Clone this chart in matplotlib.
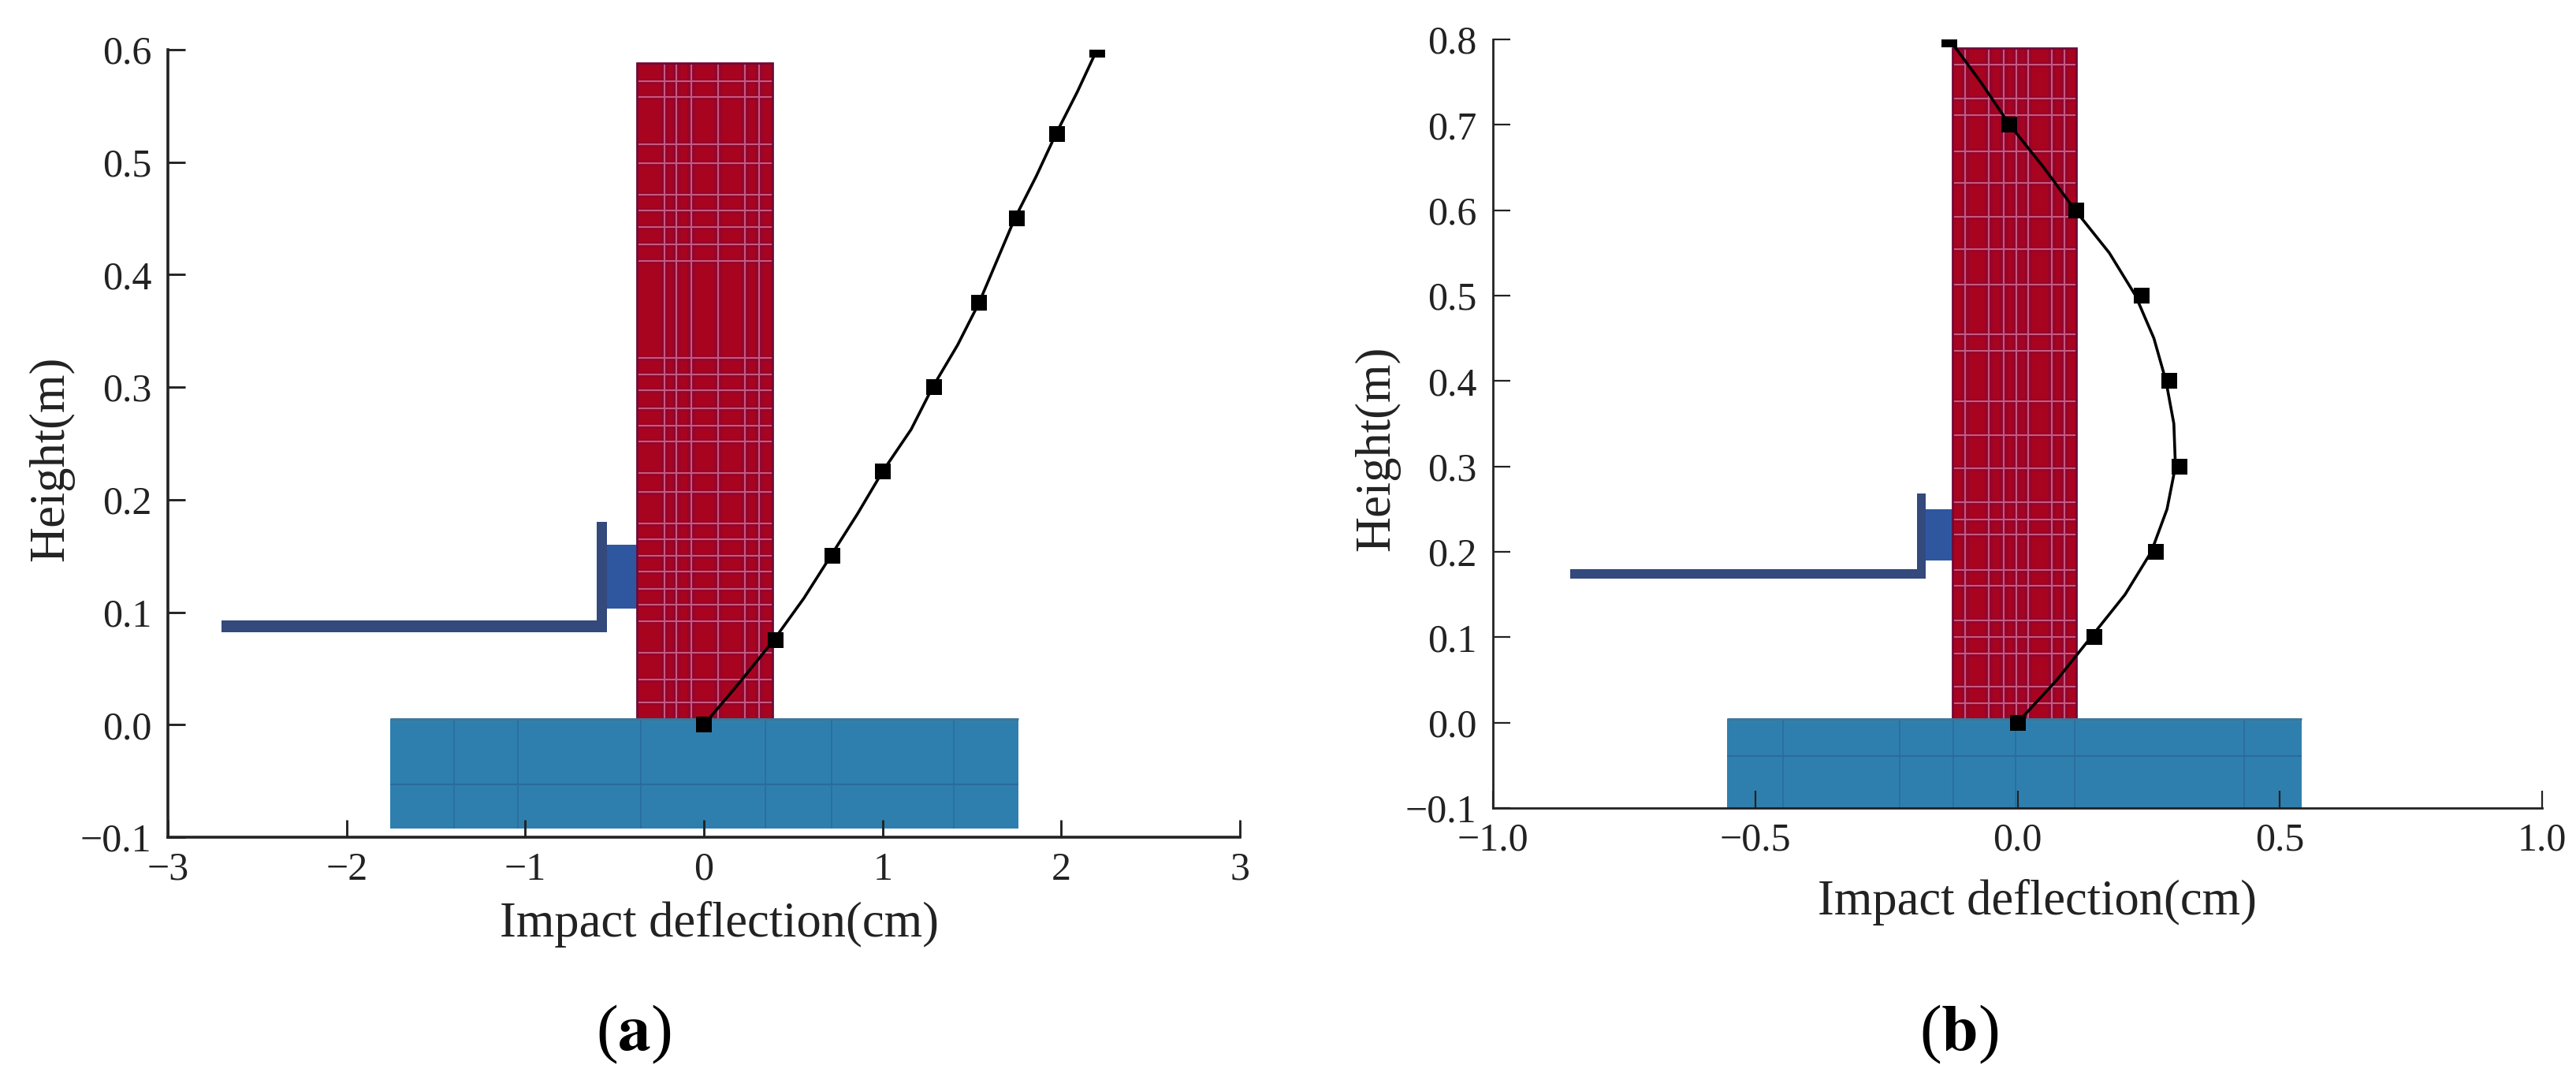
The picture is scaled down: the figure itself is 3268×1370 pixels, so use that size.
import matplotlib
matplotlib.use('Agg')
import matplotlib.pyplot as plt
from matplotlib.patches import Rectangle

W, H = 3268, 1370
plt.rcParams['font.family'] = ['Liberation Serif', 'DejaVu Serif']

# panel (a) data
a_x_ticks = [-3, -2, -1, 0, 1, 2, 3]
a_y_ticks = [-0.1, 0.0, 0.1, 0.2, 0.3, 0.4, 0.5, 0.6]
a_marker_x = [0, 0.40, 0.72, 1.00, 1.29, 1.54, 1.75, 1.975, 2.20]
a_marker_y = [0, 0.075, 0.15, 0.225, 0.30, 0.375, 0.45, 0.525, 0.60]
a_curve_x = [0, 0.20, 0.39, 0.56, 0.71, 0.86, 1.00, 1.16, 1.28, 1.42, 1.54, 1.64, 1.74, 1.86, 1.97, 2.09, 2.20]
a_curve_y = [0, 0.0375, 0.075, 0.1125, 0.15, 0.1875, 0.225, 0.2625, 0.30, 0.3375, 0.375, 0.4125, 0.45, 0.4875, 0.525, 0.5625, 0.60]
a_wall = (-0.375, 0.384, 0.005, 0.588)
a_wall_v = [-0.221, -0.154, -0.071, 0.079, 0.229, 0.309]
a_wall_h = [0.572, 0.558, 0.516, 0.499, 0.471, 0.457, 0.442, 0.427, 0.412, 0.326, 0.311, 0.297, 0.281, 0.266,
            0.252, 0.224, 0.207, 0.179, 0.165, 0.150, 0.136, 0.121, 0.107, 0.092, 0.064, 0.040, 0.020]
a_foot = (-1.756, 1.76, -0.092, 0.005)
a_foot_v = [-1.398, -1.04, -0.353, 0.344, 0.715, 1.40]
a_foot_h = [-0.053]
a_arm = (-2.70, -0.543, 0.0825, 0.093)
a_post = (-0.60, -0.543, 0.0825, 0.180)
a_block = (-0.543, -0.375, 0.103, 0.160)

# panel (b) data
b_x_ticks = [-1.0, -0.5, 0.0, 0.5, 1.0]
b_y_ticks = [-0.1, 0.0, 0.1, 0.2, 0.3, 0.4, 0.5, 0.6, 0.7, 0.8]
b_marker_x = [0, 0.146, 0.264, 0.309, 0.289, 0.237, 0.112, -0.016, -0.13]
b_marker_y = [0, 0.1, 0.2, 0.3, 0.4, 0.5, 0.6, 0.7, 0.8]
b_curve_x = [0, 0.075, 0.14, 0.205, 0.255, 0.285, 0.301, 0.298, 0.283, 0.26, 0.225, 0.175, 0.11, 0.05, -0.015, -0.07, -0.13]
b_curve_y = [0, 0.05, 0.10, 0.15, 0.20, 0.25, 0.30, 0.35, 0.40, 0.45, 0.50, 0.55, 0.60, 0.65, 0.70, 0.75, 0.80]
b_wall = (-0.124, 0.112, 0.003, 0.790)
b_wall_v = [-0.100, -0.055, -0.026, -0.002, 0.020, 0.065, 0.089]
b_wall_h = [0.770, 0.731, 0.711, 0.669, 0.632, 0.592, 0.554, 0.513, 0.455, 0.435, 0.376, 0.337,
            0.298, 0.258, 0.238, 0.220, 0.179, 0.160, 0.120, 0.100, 0.081, 0.042, 0.023]
b_foot = (-0.554, 0.541, -0.1, 0.004)
b_foot_v = [-0.447, -0.225, -0.123, -0.004, 0.109, 0.432]
b_foot_h = [-0.039]
b_arm = (-0.853, -0.175, 0.169, 0.180)
b_post = (-0.192, -0.175, 0.169, 0.268)
b_block = (-0.175, -0.124, 0.190, 0.250)


def box(ax, rect, color, z):
    x0, x1, y0, y1 = rect
    ax.add_patch(Rectangle((x0, y0), x1 - x0, y1 - y0, facecolor=color, edgecolor='none', zorder=z))


def draw_panel(px, xlim, ylim, xticks, yticks, xfmt, wall, wall_v, wall_h, foot, foot_v, foot_h,
               arm, post, block, cx, cy, mx, my, xlabel_at, ylabel_at, lw):
    left, right, top, bottom = px
    ax = fig.add_axes([left / W, 1 - bottom / H, (right - left) / W, (bottom - top) / H])
    ax.set_xlim(xlim)
    ax.set_ylim(ylim)

    # wall: dark bands first, then the pale mesh lines on them
    box(ax, wall, '#a8031f', 1)
    ax.vlines(wall_v, wall[2], wall[3], color='#7a0a40', lw=7, alpha=0.45, zorder=1.1)
    ax.hlines(wall_h, wall[0], wall[1], color='#7a0a40', lw=5, alpha=0.35, zorder=1.1)
    ax.vlines(wall_v, wall[2], wall[3], color='#c8587c', lw=1.5, zorder=1.2)
    ax.hlines(wall_h, wall[0], wall[1], color='#c8587c', lw=1.5, zorder=1.2)
    ax.add_patch(Rectangle((wall[0], wall[2]), wall[1] - wall[0], wall[3] - wall[2], fill=False,
                           edgecolor='#6e0a38', lw=2, zorder=1.3))
    # base slab
    box(ax, foot, '#2f7fae', 1.5)
    ax.vlines(foot_v, foot[2], foot[3], color='#2a6c9c', lw=1.2, zorder=1.6)
    ax.hlines(foot_h, foot[0], foot[1], color='#2a6c9c', lw=1.5, zorder=1.6)
    ax.hlines(foot[3], foot[0], foot[1], color='#3f7596', lw=2, zorder=1.6)
    # cantilever
    box(ax, arm, '#34497c', 1)
    box(ax, post, '#34497c', 1)
    box(ax, block, '#2f57a0', 1)

    ax.plot(cx, cy, color='black', lw=2.6, zorder=3)
    ax.plot(mx, my, ls='none', marker='s', ms=15, color='black', mew=0, zorder=4)

    ax.spines['top'].set_visible(False)
    ax.spines['right'].set_visible(False)
    ax.spines['left'].set_linewidth(lw)
    ax.spines['bottom'].set_linewidth(lw)
    ax.spines['left'].set_color('#222222')
    ax.spines['bottom'].set_color('#222222')

    ax.set_xticks(xticks)
    ax.set_yticks(yticks)
    ax.set_xticklabels([xfmt.format(v).replace('-', '\u2212') for v in xticks])
    ax.set_yticklabels(['{:.1f}'.format(v).replace('-', '\u2212') for v in yticks])
    ax.tick_params(axis='x', direction='in', length=15.8, width=lw * 0.8, color='#222222', labelsize=36, pad=13, labelcolor='#222222')
    ax.tick_params(axis='y', direction='in', length=15.8, width=lw * 0.8, color='#222222', labelsize=36, pad=15, labelcolor='#222222')

    ax.set_xlabel('Impact deflection(cm)', fontsize=45, color='#222222')
    ax.set_ylabel('Height(m)', fontsize=45, color='#222222')
    ax.xaxis.set_label_coords((xlabel_at[0] - left) / (right - left), (bottom - xlabel_at[1]) / (bottom - top))
    ax.yaxis.set_label_coords((ylabel_at[0] - left) / (right - left), (bottom - ylabel_at[1]) / (bottom - top))
    ax.xaxis.label.set_va('center')
    ax.yaxis.label.set_va('center')
    return ax


fig = plt.figure(figsize=(W / 100, H / 100), dpi=100, facecolor='white')

draw_panel((213, 1573, 63, 1062), (-3, 3), (-0.1, 0.6), a_x_ticks, a_y_ticks, '{:d}',
           a_wall, a_wall_v, a_wall_h, a_foot, a_foot_v, a_foot_h, a_arm, a_post, a_block,
           a_curve_x, a_curve_y, a_marker_x, a_marker_y, (913, 1173), (65, 582), 2.6)
draw_panel((1894, 3225, 50, 1025), (-1, 1), (-0.1, 0.8), b_x_ticks, b_y_ticks, '{:.1f}',
           b_wall, b_wall_v, b_wall_h, b_foot, b_foot_v, b_foot_h, b_arm, b_post, b_block,
           b_curve_x, b_curve_y, b_marker_x, b_marker_y, (2584, 1144), (1747, 569), 2.0)

# panel letters: bold letter inside regular parentheses
for cx_px, letter in [(804, 'a'), (2485, 'b')]:
    fig.text(cx_px / W, 1 - 1312 / H, '(' + r'$\mathbf{' + letter + r'}$' + ')', ha='center', va='center',
             fontsize=60, color='black', math_fontfamily='stix')

fig.savefig('out.png', dpi=100, facecolor='white')
